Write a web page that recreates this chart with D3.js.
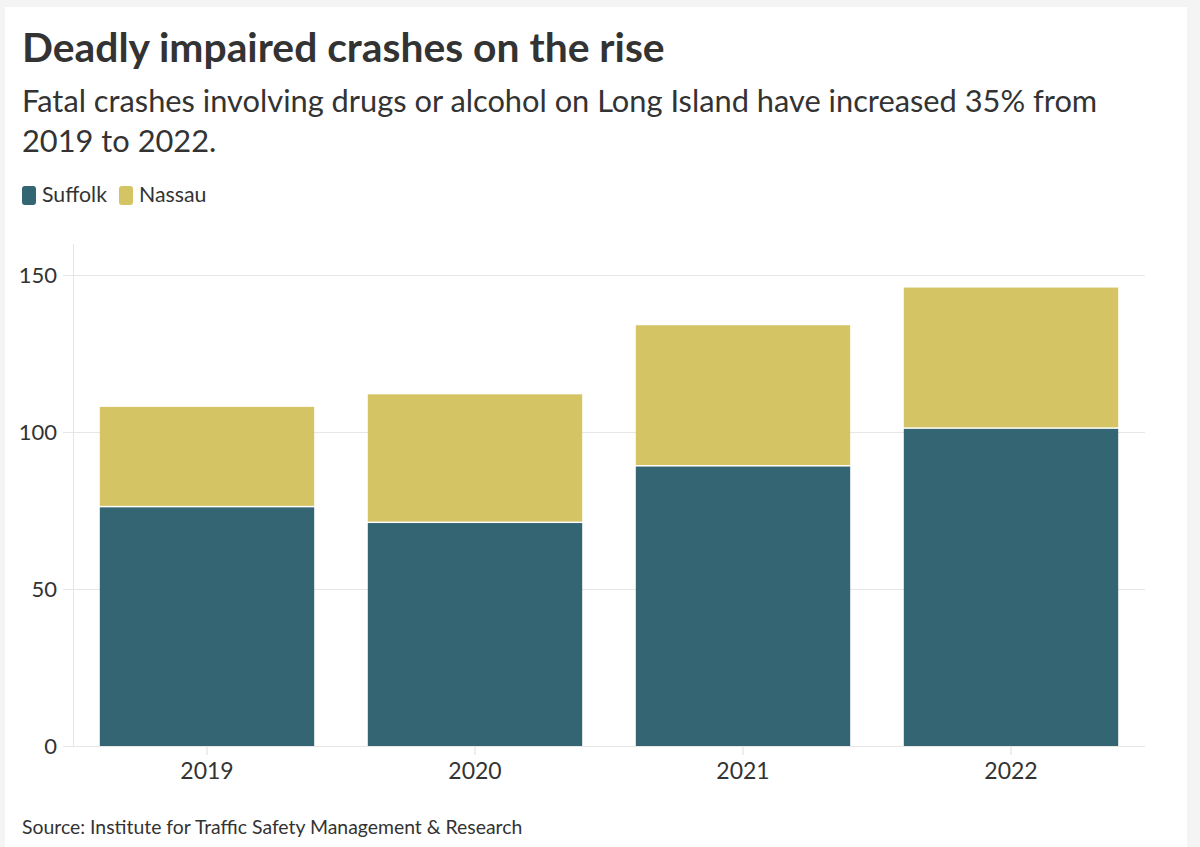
<!DOCTYPE html>
<html>
<head>
<meta charset="utf-8">
<script src="https://cdn.jsdelivr.net/npm/d3@7"></script>
<style>
  html, body { margin: 0; padding: 0; background: #f4f4f4; }
  svg { display: block; }
  text { font-family: "Source Sans Pro", Lato, "Noto Sans", sans-serif; fill: #333; }
</style>
</head>
<body>
<script>
// data
let years   = ["2019", "2020", "2021", "2022"];
let suffolk = [76, 71, 89, 101];
let nassau  = [32, 41, 45, 45];
let seriesNames  = ["Suffolk", "Nassau"];
let seriesColors = ["#336573", "#d4c463"];
let yTicks  = [0, 50, 100, 150];

let size = {width: 1200, height: 847};
let svg = d3.select("body").append("svg")
    .attr("width", size.width).attr("height", size.height);

// white card on the grey page
svg.append("rect")
    .attr("x", 5).attr("y", 7)
    .attr("width", 1182).attr("height", size.height - 7)
    .attr("fill", "#fff");

// header
svg.append("text")
    .attr("x", 22).attr("y", 62)
    .attr("font-size", 40.8).attr("font-weight", 700)
    .text("Deadly impaired crashes on the rise");
let sub = svg.append("text")
    .attr("x", 22).attr("y", 112)
    .attr("font-size", 30.8);
sub.append("tspan").attr("x", 22)
    .text("Fatal crashes involving drugs or alcohol on Long Island have increased 35% from");
sub.append("tspan").attr("x", 22).attr("dy", 40)
    .text("2019 to 2022.");

// legend
let legend = svg.append("g").attr("transform", "translate(22,186)");
let lx = 0;
seriesNames.forEach((name, i) => {
    let g = legend.append("g").attr("transform", `translate(${lx},0)`);
    g.append("rect")
        .attr("width", 14).attr("height", 19)
        .attr("rx", 3)
        .attr("fill", seriesColors[i]);
    let t = g.append("text")
        .attr("x", 20).attr("y", 16)
        .attr("font-size", 21.3)
        .text(name);
    lx += 20 + t.node().getComputedTextLength() + 12;
});

// scales
let margin = {top: 275, right: 1145, bottom: 746, left: 73};
let x = d3.scaleBand()
    .domain(years)
    .range([margin.left, margin.right])
    .paddingInner(0.2)
    .paddingOuter(0.1);
let y = d3.scaleLinear()
    .domain([0, 150])
    .range([margin.bottom, margin.top]);

// grid
let grid = svg.append("g");
grid.selectAll("line")
    .data(yTicks)
    .join("line")
    .attr("x1", 63).attr("x2", margin.right)
    .attr("y1", d => y(d) + 0.5).attr("y2", d => y(d) + 0.5)
    .attr("stroke", "#e6e6e6");
grid.append("line")
    .attr("x1", margin.left + 0.5).attr("x2", margin.left + 0.5)
    .attr("y1", 244).attr("y2", margin.bottom)
    .attr("stroke", "#e6e6e6");

// y axis labels
svg.append("g")
    .selectAll("text")
    .data(yTicks)
    .join("text")
    .attr("x", 57).attr("y", d => y(d) + 8)
    .attr("text-anchor", "end")
    .attr("font-size", 22)
    .text(d => d);

// stacked bars
let rows = years.map((yr, i) => ({year: yr, Suffolk: suffolk[i], Nassau: nassau[i]}));
let stack = d3.stack().keys(seriesNames)(rows);
let gap = 1.5;
svg.append("g")
    .selectAll("g")
    .data(stack)
    .join("g")
    .attr("fill", (d, i) => seriesColors[i])
    .selectAll("rect")
    .data((d, i) => d.map(v => ({v, i})))
    .join("rect")
    .attr("x", d => x(d.v.data.year))
    .attr("width", x.bandwidth())
    .attr("y", d => y(d.v[1]))
    .attr("height", d => y(d.v[0]) - y(d.v[1]) - (d.i === 1 ? gap : 0));

// x axis
let xAxis = svg.append("g");
xAxis.selectAll("line")
    .data(years)
    .join("line")
    .attr("x1", d => x(d) + x.bandwidth() / 2).attr("x2", d => x(d) + x.bandwidth() / 2)
    .attr("y1", margin.bottom + 1).attr("y2", margin.bottom + 9)
    .attr("stroke", "#ddd");
xAxis.selectAll("text")
    .data(years)
    .join("text")
    .attr("x", d => x(d) + x.bandwidth() / 2)
    .attr("y", 779)
    .attr("text-anchor", "middle")
    .attr("font-size", 23)
    .text(d => d);

// source
svg.append("text")
    .attr("x", 22).attr("y", 834)
    .attr("font-size", 19.4)
    .text("Source: Institute for Traffic Safety Management & Research");
</script>
</body>
</html>
